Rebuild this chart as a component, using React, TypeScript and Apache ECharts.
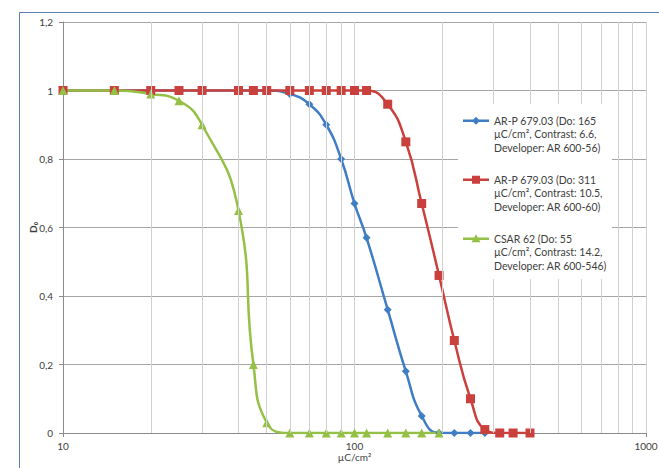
import React, { useEffect, useRef } from 'react';
import * as echarts from 'echarts';

// Dose (µC/cm²) and normalised remaining thickness D0
const doseBlue = [10, 15, 20, 25, 30, 40, 45, 50, 60, 70, 80, 90, 100, 110, 130, 150, 170, 195, 220, 250, 280];
const d0Blue = [1, 1, 1, 1, 1, 1, 1, 1, 0.99, 0.96, 0.9, 0.8, 0.67, 0.57, 0.36, 0.18, 0.05, 0, 0, 0, 0];

const doseRed = [10, 15, 20, 25, 30, 40, 45, 50, 60, 70, 80, 90, 100, 110, 130, 150, 170, 195, 220, 250, 280, 315, 350, 400];
const d0Red = [1, 1, 1, 1, 1, 1, 1, 1, 1, 1, 1, 1, 1, 1, 0.96, 0.85, 0.67, 0.46, 0.27, 0.1, 0.01, 0, 0, 0];

const doseGreen = [10, 15, 20, 25, 30, 40, 45, 50, 60, 70, 80, 90, 100, 110, 130, 150, 170, 195];
const d0Green = [1, 1, 0.99, 0.97, 0.9, 0.65, 0.2, 0.03, 0, 0, 0, 0, 0, 0, 0, 0, 0, 0];

const minorGridValues = [20, 30, 40, 50, 60, 70, 80, 90, 200, 300, 400, 500, 600, 700, 800, 900];

const seriesNames = [
  'AR-P 679.03 (Do: 165\nµC/cm², Contrast: 6.6,\nDeveloper: AR 600-56)',
  'AR-P 679.03 (Do: 311\nµC/cm², Contrast: 10.5,\nDeveloper: AR 600-60)',
  'CSAR 62 (Do: 55\nµC/cm², Contrast: 14.2,\nDeveloper: AR 600-546)',
];
const seriesColors = ['#3F7DC4', '#C9403D', '#94C045'];
const seriesSymbols = ['diamond', 'rect', 'triangle'];
const seriesSymbolSizes = [8, 9, 9];

const xAxisName = 'µC/cm²';
const yAxisName = 'D₀';

const FONT = 'Lato, "Liberation Sans", sans-serif';

// Legend icons: line with marker placed at the first text line, in a 26x40 box
const ICON_EXTENT = 'M0,0 L0.01,0 L0,0.01 Z M0,40 L0.01,40 L0,39.99 Z ';
const ICON_LINE = 'M0,5.3 L26,5.3 L26,7.7 L0,7.7 Z ';
const legendIcons = [
  'path://' + ICON_EXTENT + ICON_LINE + 'M13,2.5 L17,6.5 L13,10.5 L9,6.5 Z',
  'path://' + ICON_EXTENT + ICON_LINE + 'M9,2.5 L17,2.5 L17,10.5 L9,10.5 Z',
  'path://' + ICON_EXTENT + ICON_LINE + 'M13,2 L17.5,10 L8.5,10 Z',
];

function pairs(xs: number[], ys: number[]) {
  return xs.map((x, i) => [x, ys[i]]);
}

export default function App() {
  const ref = useRef<HTMLDivElement>(null);

  useEffect(() => {
    if (!ref.current) return;
    const chart = echarts.init(ref.current, undefined, { renderer: 'svg' });
    const datasets = [pairs(doseBlue, d0Blue), pairs(doseRed, d0Red), pairs(doseGreen, d0Green)];

    const option: any = {
      animation: false,
      backgroundColor: '#ffffff',
      textStyle: { fontFamily: FONT },
      grid: {
        left: 63,
        right: 13,
        top: 22,
        bottom: 35,
        containLabel: false,
        outerBoundsMode: 'none',
      },
      graphic: {
        z: 10,
        elements: [
          {
            type: 'rect',
            silent: true,
            z: 0,
            shape: { x: 19.5, y: 12.5, width: 700, height: 500 },
            style: { fill: 'none', stroke: '#5B7DB5', lineWidth: 1 },
          },
          {
            type: 'rect',
            silent: true,
            z: 10,
            shape: { x: 458, y: 104, width: 154, height: 175 },
            style: { fill: '#ffffff', stroke: 'none' },
          },
        ],
      },
      xAxis: {
        type: 'log',
        logBase: 10,
        min: 10,
        max: 1000,
        name: xAxisName,
        nameLocation: 'middle',
        nameGap: 19,
        nameMoveOverlap: false,
        nameTextStyle: { fontSize: 10, color: '#404040', fontFamily: FONT },
        axisLine: { show: true, lineStyle: { color: '#8C8C8C', width: 1 } },
        axisTick: { show: true, length: 4, lineStyle: { color: '#8C8C8C' } },
        axisLabel: {
          fontSize: 10,
          color: '#404040',
          margin: 8,
          fontFamily: FONT,
          formatter: (v: number) => String(Math.round(v)),
        },
        splitLine: { show: true, lineStyle: { color: '#D0D0D0', width: 1 } },
      },
      yAxis: {
        type: 'value',
        min: 0,
        max: 1.2,
        interval: 0.2,
        name: yAxisName,
        nameLocation: 'middle',
        nameRotate: 90,
        nameGap: 25,
        nameMoveOverlap: false,
        nameTextStyle: { fontSize: 10, fontWeight: 'bold', color: '#404040', fontFamily: FONT },
        axisLine: { show: true, lineStyle: { color: '#8C8C8C', width: 1 } },
        axisTick: { show: true, length: 4, lineStyle: { color: '#8C8C8C' } },
        axisLabel: {
          fontSize: 10,
          color: '#404040',
          margin: 10,
          fontFamily: FONT,
          formatter: (v: number) => {
            if (Math.abs(v) < 1e-9) return '0';
            if (Math.abs(v - 1) < 1e-9) return '1';
            return v.toFixed(1).replace('.', ',');
          },
        },
        splitLine: { show: true, lineStyle: { color: '#A6A6A6', width: 1 } },
      },
      legend: {
        orient: 'vertical',
        left: 455,
        top: 106,
        z: 20,
        padding: [8, 8, 8, 8],
        itemGap: 18.5,
        itemWidth: 26,
        itemHeight: 40,
        symbolKeepAspect: true,
        itemStyle: { borderWidth: 0 },
        data: seriesNames.map((n, i) => ({ name: n, icon: legendIcons[i] })),
        textStyle: {
          fontSize: 10.5,
          lineHeight: 13.5,
          color: '#404040',
          fontFamily: FONT,
        },
      },
      series: [
        {
          type: 'line',
          name: 'minor-grid',
          data: [],
          silent: true,
          z: 1,
          markLine: {
            silent: true,
            symbol: 'none',
            label: { show: false },
            lineStyle: { color: '#D0D0D0', type: 'solid', width: 1 },
            emphasis: { disabled: true },
            data: minorGridValues.map((v) => ({ xAxis: v })),
          },
        },
        ...datasets.map((d, i) => ({
          type: 'line',
          name: seriesNames[i],
          data: d,
          z: 2,
          smooth: 0.5,
          symbol: seriesSymbols[i],
          symbolSize: seriesSymbolSizes[i],
          showAllSymbol: true,
          color: seriesColors[i],
          lineStyle: { color: seriesColors[i], width: 2.5 },
          itemStyle: { color: seriesColors[i], borderWidth: 0 },
        })),
      ],
    };

    chart.setOption(option);
    return () => chart.dispose();
  }, []);

  return (
    <div
      ref={ref}
      style={{ position: 'fixed', left: 0, top: 0, width: 659, height: 468 }}
    />
  );
}
